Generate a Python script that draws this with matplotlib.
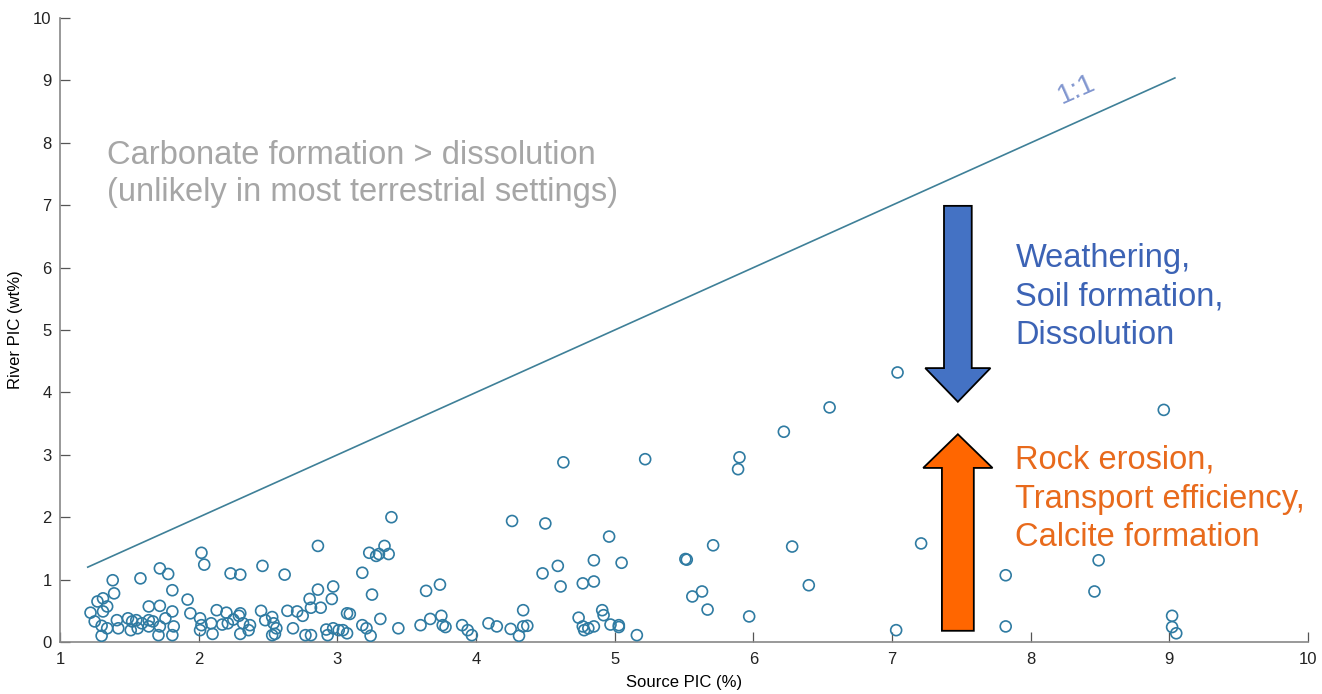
import numpy as np
import matplotlib
matplotlib.use('Agg')
import matplotlib.pyplot as plt
from matplotlib.patches import FancyArrow

plt.rcParams['font.family'] = ['Liberation Sans', 'DejaVu Sans']

# source vs river particulate inorganic carbon
source_pic = [
    2.02, 2.04, 1.72, 1.78, 1.38, 1.58, 1.81, 1.39, 1.31, 1.27, 1.34, 1.22, 1.31, 1.64,
    1.72, 1.81, 1.92, 1.94, 1.25, 1.30, 1.34, 1.41, 1.42, 1.49, 1.52, 1.55, 1.59, 1.64,
    1.64, 1.67, 1.72, 1.76, 1.82, 1.51, 1.56, 1.71, 1.81, 1.30, 2.01, 2.02, 2.01,
    2.86, 2.23, 2.30, 2.46, 2.62, 2.86, 2.97, 2.80, 2.96, 2.81, 2.88, 3.07, 2.13, 2.20,
    2.30, 2.29, 2.25, 2.21, 2.17, 2.09, 2.32, 2.37, 2.45, 2.48, 2.53, 2.54, 2.56, 2.53,
    2.55, 2.64, 2.71, 2.75, 2.68, 2.77, 2.81, 2.92, 2.97, 2.93, 3.01, 3.04, 2.30, 2.36, 2.10,
    3.39, 3.34, 3.23, 3.28, 3.30, 3.37, 3.18, 3.25, 3.64, 3.74, 3.09, 3.07, 3.18, 3.21,
    3.24, 3.31, 3.44, 3.60, 3.67, 3.75, 3.76, 3.78, 3.90, 3.94, 3.97, 4.09,
    4.26, 4.50, 4.63, 5.22, 4.96, 4.48, 4.59, 4.61, 4.85, 5.05, 4.77, 4.85, 4.15, 4.25,
    4.34, 4.34, 4.37, 4.31, 4.74, 4.77, 4.78, 4.81, 4.85, 4.91, 4.92, 4.97, 5.03, 5.03,
    5.16, 5.51, 5.52,
    7.04, 6.55, 6.22, 5.90, 5.89, 5.71, 6.28, 7.21, 6.40, 5.63, 5.56, 5.67, 5.97, 7.03,
    8.96, 7.82, 7.82, 8.49, 8.46, 9.02, 9.02, 9.05,
]
river_pic = [
    1.43, 1.24, 1.18, 1.09, 0.99, 1.02, 0.83, 0.78, 0.70, 0.65, 0.57, 0.47, 0.49, 0.57,
    0.58, 0.49, 0.68, 0.46, 0.33, 0.26, 0.22, 0.35, 0.22, 0.38, 0.33, 0.35, 0.30, 0.35,
    0.25, 0.33, 0.25, 0.38, 0.25, 0.19, 0.22, 0.11, 0.11, 0.10, 0.38, 0.27, 0.19,
    1.54, 1.10, 1.08, 1.22, 1.08, 0.84, 0.89, 0.69, 0.69, 0.55, 0.55, 0.46, 0.51, 0.47,
    0.46, 0.42, 0.36, 0.30, 0.28, 0.30, 0.30, 0.27, 0.50, 0.35, 0.40, 0.30, 0.22, 0.11,
    0.13, 0.50, 0.49, 0.42, 0.22, 0.11, 0.11, 0.20, 0.22, 0.11, 0.19, 0.19, 0.13, 0.19, 0.13,
    2.00, 1.54, 1.43, 1.38, 1.41, 1.41, 1.11, 0.76, 0.82, 0.92, 0.45, 0.14, 0.27, 0.22,
    0.10, 0.37, 0.22, 0.27, 0.37, 0.42, 0.27, 0.24, 0.27, 0.19, 0.11, 0.30,
    1.94, 1.90, 2.88, 2.93, 1.69, 1.10, 1.22, 0.89, 1.31, 1.27, 0.94, 0.97, 0.25, 0.21,
    0.51, 0.25, 0.26, 0.10, 0.39, 0.25, 0.19, 0.22, 0.25, 0.51, 0.43, 0.28, 0.27, 0.24,
    0.11, 1.33, 1.32,
    4.32, 3.76, 3.37, 2.96, 2.77, 1.55, 1.53, 1.58, 0.91, 0.81, 0.73, 0.52, 0.41, 0.19,
    3.72, 1.07, 0.25, 1.31, 0.81, 0.42, 0.24, 0.14,
]

one_to_one = [1.2, 9.04]

fig = plt.figure(figsize=(13.22, 6.94), dpi=100)
ax = fig.add_axes([0.0454, 0.0749, 0.9440, 0.8991])

ax.plot(one_to_one, one_to_one, color='#3f8098', lw=1.2)
ax.scatter(source_pic, river_pic, s=62, facecolors='none', edgecolors='#2f7ba2', linewidths=1.2, zorder=3)

ax.set_xlim(1, 10)
ax.set_ylim(0, 10)
ax.set_xticks(range(1, 11))
ax.set_yticks(range(0, 11))
ax.tick_params(direction='in', length=7.5, width=0.9, color='#555555', labelsize=12, labelcolor='#222222')
ax.tick_params(axis='y', pad=6)
ax.tick_params(axis='x', pad=7)
for s in ['top', 'right']:
    ax.spines[s].set_visible(False)
for s in ['left', 'bottom']:
    ax.spines[s].set_color('#888888')
    ax.spines[s].set_linewidth(1.2)

ax.set_xlabel('Source PIC (%)', fontsize=12, labelpad=6)
ax.set_ylabel('River PIC (wt%)', fontsize=12, labelpad=7)

# region annotation
ax.text(1.34, 7.5, 'Carbonate formation > dissolution\n(unlikely in most terrestrial settings)',
        fontsize=23.5, color='#a6a6a6', va='center', ha='left', linespacing=1.27)
ax.text(8.33, 8.85, '1:1', fontsize=20, color='#8196cf', rotation=24, ha='center', va='center')

# process arrows
ax.add_patch(FancyArrow(7.475, 6.99, 0, -3.14, width=0.2, head_width=0.47, head_length=0.54,
                        length_includes_head=True, fc='#4472c4', ec='black', lw=1.3, zorder=4))
ax.add_patch(FancyArrow(7.475, 0.18, 0, 3.15, width=0.23, head_width=0.5, head_length=0.54,
                        length_includes_head=True, fc='#ff6600', ec='black', lw=1.3, zorder=4))

ax.text(7.89, 5.53, 'Weathering,\nSoil formation,\nDissolution', fontsize=23.5, color='#3c63b5',
        ha='left', va='center', linespacing=1.32)
ax.text(7.89, 2.29, 'Rock erosion,\nTransport efficiency,\nCalcite formation', fontsize=23.5,
        color='#e86a1c', ha='left', va='center', linespacing=1.32)

fig.savefig('out.png', dpi=100)
